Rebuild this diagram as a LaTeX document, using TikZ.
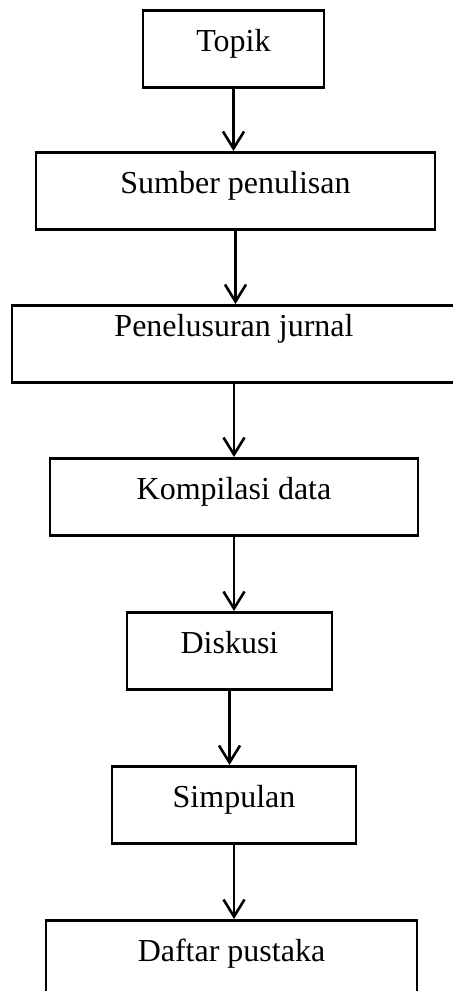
\documentclass[tikz,border=0pt]{standalone}
\usepackage{fontspec}
\setmainfont{Liberation Serif}
\usetikzlibrary{arrows.meta}
\tikzstyle{every node}=[draw, rectangle, inner sep=0pt, text height=20.5pt, text depth=18pt, anchor=north, font=\fontsize{16}{19}\selectfont]
\tikzstyle{flow}=[-{Straight Barb[length=8.5pt, width=10.5pt]}]

\begin{document}
\begin{tikzpicture}[x=0.5pt, y=-0.5pt, line width=1.3pt]
    \clip (0,0) rectangle (453,991);
% Boxes
    \node[minimum width=90.5pt] (topik) at (233.5,9) {Topik};
    \node[minimum width=199.5pt] (sumber) at (235.5,151) {Sumber penulisan};
    \node[minimum width=222pt, text height=15.5pt, text depth=23pt] (jurnal) at (234,304) {Penelusuran jurnal};
    \node[minimum width=184pt] (kompilasi) at (234,457) {Kompilasi data};
    \node[minimum width=102.5pt] (diskusi) at (229.5,611) {Diskusi};
    \node[minimum width=122pt] (simpulan) at (234,765) {Simpulan};
    \node[minimum width=185.5pt] (pustaka) at (231.5,919) {Daftar pustaka};
% Arrows
    \draw[flow] (topik.south) -- (topik.south |- sumber.north);
    \draw[flow] (sumber.south) -- (sumber.south |- jurnal.north);
    \draw[flow] (jurnal.south) -- (jurnal.south |- kompilasi.north);
    \draw[flow] (kompilasi.south) -- (kompilasi.south |- diskusi.north);
    \draw[flow] (diskusi.south) -- (diskusi.south |- simpulan.north);
    \draw[flow] (simpulan.south) -- (simpulan.south |- pustaka.north);
\end{tikzpicture}
\end{document}
